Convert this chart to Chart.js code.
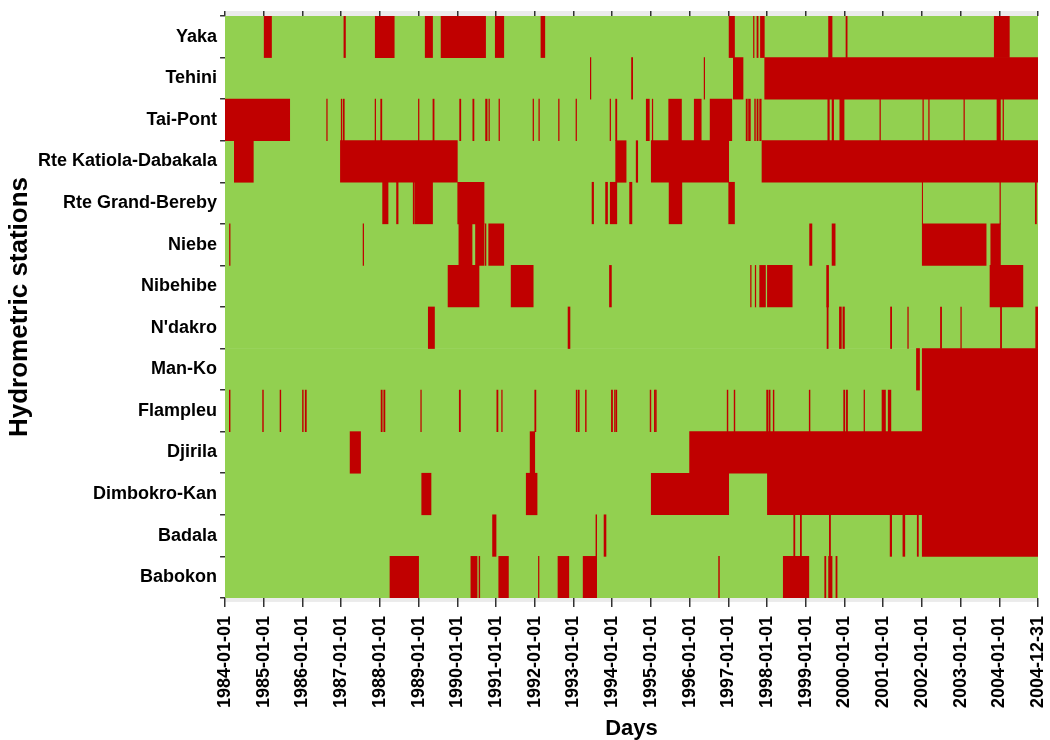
<!DOCTYPE html>
<html>
<head>
<meta charset="utf-8">
<script src="https://cdn.jsdelivr.net/npm/chart.js@4/dist/chart.umd.min.js"></script>
<style>
  html, body { margin: 0; padding: 0; background: #fff; }
  #wrap { width: 1050px; height: 740px; }
</style>
</head>
<body>
<div id="wrap"><canvas id="chart"></canvas></div>
<script>
// stations, top to bottom
const stations = ['Yaka', 'Tehini', 'Tai-Pont', 'Rte Katiola-Dabakala', 'Rte Grand-Bereby', 'Niebe',
  'Nibehibe', "N'dakro", 'Man-Ko', 'Flampleu', 'Djirila', 'Dimbokro-Kan', 'Badala', 'Babokon'];

// period covered (decimal years) and tick labels
const periodStart = 1984;
const periodEnd = 2005;
const tickYears = [1984, 1985, 1986, 1987, 1988, 1989, 1990, 1991, 1992, 1993, 1994,
  1995, 1996, 1997, 1998, 1999, 2000, 2001, 2002, 2003, 2004, 2005];
const tickLabels = ['1984-01-01', '1985-01-01', '1986-01-01', '1987-01-01', '1988-01-01', '1989-01-01',
  '1990-01-01', '1991-01-01', '1992-01-01', '1993-01-01', '1994-01-01', '1995-01-01', '1996-01-01',
  '1997-01-01', '1998-01-01', '1999-01-01', '2000-01-01', '2001-01-01', '2002-01-01', '2003-01-01',
  '2004-01-01', '2004-12-31'];

// missing-data periods per station [start, end] in decimal years
const gapsYaka = [[1985.01, 1985.20], [1987.07, 1987.11], [1987.88, 1988.37], [1989.17, 1989.36],
  [1989.58, 1990.73], [1990.98, 1991.20], [1992.16, 1992.26], [1997.02, 1997.16], [1997.65, 1997.665],
  [1997.74, 1997.77], [1997.83, 1997.93], [1999.59, 1999.68], [2000.04, 2000.07], [2003.87, 2004.26]];
const gapsTehini = [[1993.435, 1993.45], [1994.50, 1994.53], [1996.375, 1996.39], [1997.13, 1997.38],
  [1997.94, 2005]];
const gapsTaiPont = [[1984.0, 1985.67], [1986.625, 1986.64], [1987.00, 1987.015], [1987.05, 1987.08],
  [1987.875, 1987.89], [1988.02, 1988.05], [1988.995, 1989.01], [1989.37, 1989.40], [1990.06, 1990.09],
  [1990.40, 1990.43], [1990.73, 1990.77], [1990.815, 1990.83], [1991.075, 1991.09], [1991.955, 1991.97],
  [1992.105, 1992.12], [1992.615, 1992.63], [1993.065, 1993.08], [1993.945, 1993.96], [1994.09, 1994.12],
  [1994.88, 1994.96], [1995.035, 1995.05], [1995.46, 1995.79], [1996.12, 1996.30], [1996.53, 1997.09],
  [1997.46, 1997.475], [1997.50, 1997.52], [1997.54, 1997.57], [1997.68, 1997.70], [1997.74, 1997.77],
  [1997.81, 1997.85], [1999.57, 1999.61], [1999.68, 1999.72], [1999.88, 1999.99], [2000.915, 2000.93],
  [2002.025, 2002.04], [2002.175, 2002.19], [2003.085, 2003.10], [2003.94, 2004.03], [2004.095, 2004.11]];
const gapsKatiola = [[1984.24, 1984.73], [1986.98, 1990.00], [1994.09, 1994.36], [1994.62, 1994.66],
  [1995.01, 1997.01], [1997.87, 2005]];
const gapsGrandBereby = [[1988.07, 1988.21], [1988.43, 1988.47], [1988.86, 1988.88], [1988.90, 1989.36],
  [1990.01, 1990.69], [1993.48, 1993.52], [1993.83, 1993.88], [1993.95, 1994.12], [1994.45, 1994.51],
  [1995.47, 1995.80], [1997.01, 1997.16], [2002.01, 2002.02], [2004.015, 2004.03], [2004.93, 2004.96]];
const gapsNiebe = [[1984.115, 1984.13], [1987.565, 1987.58], [1990.04, 1990.38], [1990.47, 1990.69],
  [1990.72, 1990.74], [1990.81, 1991.20], [1999.10, 1999.16], [1999.68, 1999.76], [2002.01, 2003.66],
  [2003.78, 2004.03]];
const gapsNibehibe = [[1989.76, 1990.56], [1991.39, 1991.96], [1993.93, 1993.98], [1997.575, 1997.59],
  [1997.695, 1997.71], [1997.81, 1997.96], [1998.01, 1998.65], [1999.54, 1999.59], [2003.76, 2004.61]];
const gapsNdakro = [[1989.25, 1989.41], [1992.86, 1992.91], [1999.55, 1999.58], [1999.87, 1999.92],
  [1999.96, 2000.00], [2001.19, 2001.22], [2001.635, 2001.65], [2002.48, 2002.51], [2003.005, 2003.02],
  [2004.03, 2004.06], [2004.94, 2005]];
const gapsManKo = [[2001.86, 2001.94], [2002.01, 2005]];
const gapsFlampleu = [[1984.11, 1984.13], [1984.97, 1984.99], [1985.42, 1985.44], [1986.00, 1986.02],
  [1986.07, 1986.10], [1988.03, 1988.06], [1988.10, 1988.13], [1989.055, 1989.07], [1990.05, 1990.08],
  [1991.02, 1991.05], [1991.145, 1991.16], [1992.00, 1992.03], [1993.07, 1993.09], [1993.12, 1993.15],
  [1993.31, 1993.33], [1993.98, 1994.01], [1994.06, 1994.08], [1994.10, 1994.12], [1994.98, 1995.00],
  [1995.09, 1995.11], [1995.12, 1995.14], [1996.97, 1996.99], [1997.15, 1997.17], [1997.99, 1998.03],
  [1998.06, 1998.08], [1998.16, 1998.18], [1999.09, 1999.11], [1999.98, 2000.01], [2000.05, 2000.08],
  [2000.505, 2000.52], [2000.97, 2001.06], [2001.13, 2001.20], [2002.01, 2005]];
const gapsDjirila = [[1987.23, 1987.50], [1991.88, 1992.00], [1996.00, 2005]];
const gapsDimbokro = [[1989.08, 1989.32], [1991.78, 1992.06], [1995.01, 1997.01], [1998.01, 2005]];
const gapsBadala = [[1990.91, 1991.00], [1993.58, 1993.60], [1993.79, 1993.84], [1998.69, 1998.72],
  [1998.86, 1998.89], [1999.61, 1999.64], [2001.18, 2001.22], [2001.51, 2001.56], [2001.88, 2001.91],
  [2002.01, 2005]];
const gapsBabokon = [[1988.26, 1989.00], [1990.35, 1990.51], [1990.56, 1990.58], [1991.07, 1991.32],
  [1992.095, 1992.11], [1992.60, 1992.88], [1993.25, 1993.60], [1996.75, 1996.77], [1998.42, 1999.08],
  [1999.49, 1999.52], [1999.59, 1999.68], [1999.78, 1999.81]];

const stationGaps = [gapsYaka, gapsTehini, gapsTaiPont, gapsKatiola, gapsGrandBereby, gapsNiebe,
  gapsNibehibe, gapsNdakro, gapsManKo, gapsFlampleu, gapsDjirila, gapsDimbokro, gapsBadala, gapsBabokon];

const GREEN = '#92D050';
const RED = '#C00000';
const FONT = "'Liberation Sans', Arial, Helvetica, sans-serif";

// red bars: one point per missing period
const missingPoints = [];
stationGaps.forEach((gaps, i) => {
  gaps.forEach(g => missingPoints.push({ x: g, y: stations[i] }));
});
// green bars: full period for every station
const availablePoints = stations.map(s => ({ x: [periodStart, periodEnd], y: s }));

const setYearTicks = (scale) => {
  scale.ticks = tickYears.map(v => ({ value: v }));
};

// light grey strip below the panel (like the one on top)
const bottomStrip = {
  id: 'bottomStrip',
  beforeDraw(chart) {
    const { ctx, chartArea } = chart;
    ctx.save();
    ctx.fillStyle = '#ebebeb';
    ctx.fillRect(chartArea.left, chartArea.bottom, chartArea.right - chartArea.left, 4);
    ctx.restore();
  }
};

new Chart(document.getElementById('chart'), {
  type: 'bar',
  data: {
    labels: stations,
    datasets: [
      {
        label: 'Missing',
        data: missingPoints,
        backgroundColor: RED,
        borderWidth: 0,
        grouped: false,
        barPercentage: 1,
        categoryPercentage: 1
      },
      {
        label: 'Available',
        data: availablePoints,
        backgroundColor: GREEN,
        borderWidth: 0,
        grouped: false,
        barPercentage: 1,
        categoryPercentage: 1
      }
    ]
  },
  options: {
    indexAxis: 'y',
    responsive: true,
    maintainAspectRatio: false,
    animation: false,
    layout: { padding: { top: 11, right: 0, left: 0, bottom: 0 } },
    plugins: {
      legend: { display: false },
      tooltip: { enabled: false }
    },
    scales: {
      x: {
        type: 'linear',
        position: 'bottom',
        min: periodStart,
        max: periodEnd,
        afterBuildTicks: setYearTicks,
        // the last rotated label only needs a narrow margin on the right
        afterFit: (scale) => { scale.paddingRight = 12; },
        border: { display: false },
        grid: { drawOnChartArea: false, tickLength: 9, color: '#333', lineWidth: 1.5 },
        ticks: {
          autoSkip: false,
          minRotation: 90,
          maxRotation: 90,
          padding: 9,
          color: '#000',
          font: { family: FONT, size: 18, weight: 'bold', lineHeight: 1 },
          callback: (v) => tickLabels[tickYears.indexOf(v)]
        },
        title: {
          display: true,
          text: 'Days',
          color: '#000',
          font: { family: FONT, size: 22, weight: 'bold', lineHeight: 1 },
          padding: { top: 1, bottom: 0 }
        }
      },
      xTop: {
        type: 'linear',
        position: 'top',
        min: periodStart,
        max: periodEnd,
        afterBuildTicks: setYearTicks,
        backgroundColor: '#ebebeb',
        border: { display: false },
        grid: { drawOnChartArea: false, tickLength: 5, color: '#333', lineWidth: 1.5 },
        ticks: { display: false }
      },
      y: {
        type: 'category',
        border: { display: false },
        grid: { drawOnChartArea: false, tickLength: 5, color: '#333', lineWidth: 1.5 },
        ticks: {
          padding: 3,
          color: '#000',
          font: { family: FONT, size: 18, weight: 'bold' }
        },
        title: {
          display: true,
          text: 'Hydrometric stations',
          color: '#000',
          font: { family: FONT, size: 26, weight: 'bold', lineHeight: 1 },
          padding: { top: 7, bottom: 2 }
        }
      }
    }
  },
  plugins: [bottomStrip]
});
</script>
</body>
</html>
